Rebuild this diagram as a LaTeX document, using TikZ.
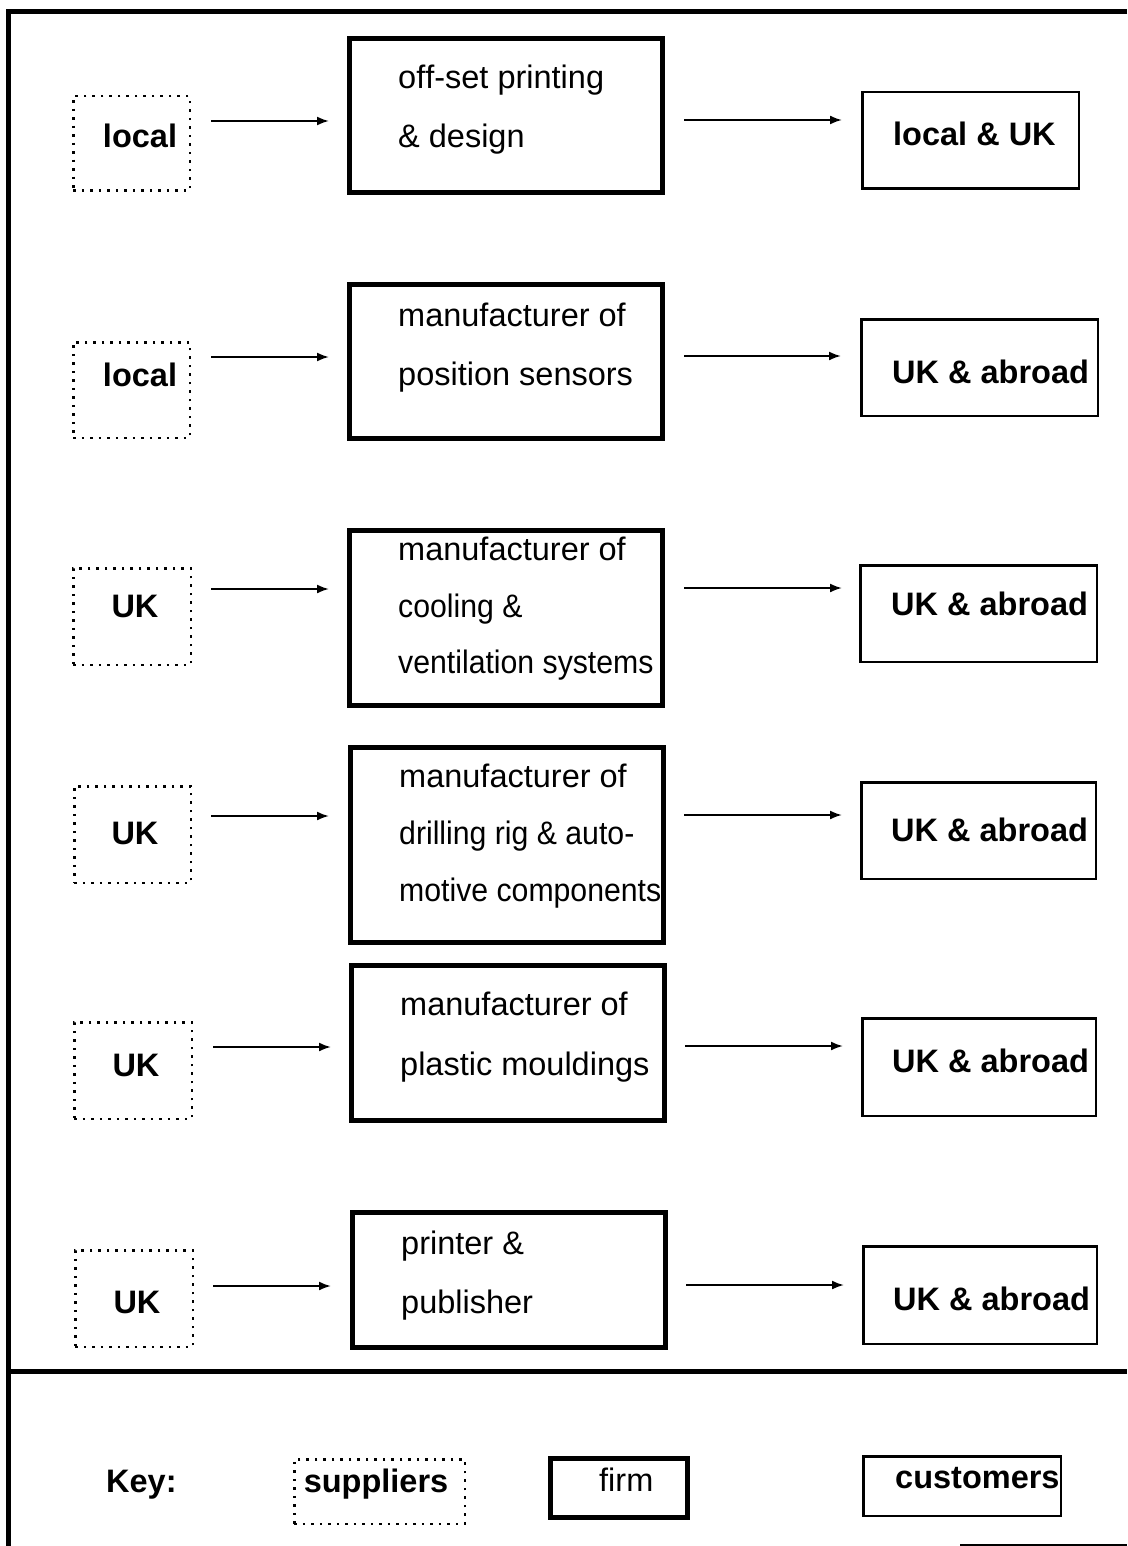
\documentclass[tikz,border=0pt]{standalone}
\usepackage{fontspec}
\setmainfont{Liberation Sans}[Ligatures=NoCommon]
\usetikzlibrary{arrows.meta}
\newcommand{\narrowtxt}[1]{\scalebox{0.93}[1]{#1}}
\begin{document}
\begin{tikzpicture}[x=1pt,y=-1pt,
  every node/.style={font=\fontsize{32.5}{39}\selectfont, inner sep=0pt},
  supbox/.style={draw, line width=2.5pt, dash pattern=on 2.5pt off 6pt},
  firmbox/.style={draw, line width=5pt},
  custbox/.style={draw, line width=2.5pt},
  btxt/.style={font=\fontsize{32.5}{39}\selectfont\bfseries, anchor=base},
  ltxt/.style={anchor=base west},
  bltxt/.style={font=\fontsize{32.5}{39}\selectfont\bfseries, anchor=base west},
  arr/.style={line width=2pt, -{Latex[length=12pt,width=9pt]}}
]
\useasboundingbox (0,0) rectangle (1127,1546);
% frame
\draw[line width=5pt] (1127,12) -- (8,12) -- (8,1546);
\draw[line width=5pt] (8,1371) -- (1127,1371);
\draw[line width=2pt] (960,1545) -- (1127,1545);

% row 1
\node[supbox, minimum width=116.5pt, minimum height=94.5pt] (s1) at (131.5,143.5) {};
\node[firmbox, minimum width=313pt, minimum height=154pt] (f1) at (506,115.5) {};
\node[custbox, minimum width=216.5pt, minimum height=96.5pt] (c1) at (970.5,140.5) {};
\node[btxt] (s1t) at (140,148) {local};
\node[ltxt] (f1a) at (398,89) {of\kern0ptf-set printing};
\node[ltxt] (f1b) at (398,148) {\& design};
\node[bltxt] (c1t) at (893,146) {local \& UK};
\draw[arr, shorten <=20pt, shorten >=18pt] (s1.east |- 0,121) -- (f1.west |- 0,121);
\draw[arr, shorten <=19pt, shorten >=19pt] (f1.east |- 0,120) -- (c1.west |- 0,120);

% row 2
\node[supbox, minimum width=116.5pt, minimum height=95.5pt] (s2) at (131.5,390) {};
\node[firmbox, minimum width=313pt, minimum height=154pt] (f2) at (506,361.5) {};
\node[custbox, minimum width=236.5pt, minimum height=96.5pt] (c2) at (979.5,367.5) {};
\node[btxt] (s2t) at (140,386) {local};
\node[ltxt] (f2a) at (398,326) {manufacturer of};
\node[ltxt] (f2b) at (398,385) {position sensors};
\node[bltxt] (c2t) at (892,383) {UK \& abroad};
\draw[arr, shorten <=20pt, shorten >=18pt] (s2.east |- 0,357) -- (f2.west |- 0,357);
\draw[arr, shorten <=19pt, shorten >=19pt] (f2.east |- 0,356) -- (c2.west |- 0,356);

% row 3
\node[supbox, minimum width=117.5pt, minimum height=96.5pt] (s3) at (132,616.5) {};
\node[firmbox, minimum width=313pt, minimum height=175pt] (f3) at (506,618) {};
\node[custbox, minimum width=236.5pt, minimum height=96.5pt] (c3) at (978.5,613.5) {};
\node[btxt] (s3t) at (135,617) {UK};
\node[ltxt] (f3a) at (398,560) {manufacturer of};
\node[ltxt] (f3b) at (398,617) {\narrowtxt{cooling \&}};
\node[ltxt] (f3c) at (398,673) {\narrowtxt{ventilation systems}};
\node[bltxt] (c3t) at (891,615) {UK \& abroad};
\draw[arr, shorten <=19pt, shorten >=18pt] (s3.east |- 0,589) -- (f3.west |- 0,589);
\draw[arr, shorten <=19pt, shorten >=17pt] (f3.east |- 0,588) -- (c3.west |- 0,588);

% row 4
\node[supbox, minimum width=116.5pt, minimum height=96.5pt] (s4) at (132.5,834.5) {};
\node[firmbox, minimum width=313pt, minimum height=195pt] (f4) at (507,845) {};
\node[custbox, minimum width=234.5pt, minimum height=96.5pt] (c4) at (978.5,830.5) {};
\node[btxt] (s4t) at (135,844) {UK};
\node[ltxt] (f4a) at (399,787) {manufacturer of};
\node[ltxt] (f4b) at (399,844) {\narrowtxt{drilling rig \& auto-}};
\node[ltxt] (f4c) at (399,901) {\narrowtxt{motive components}};
\node[bltxt] (c4t) at (891,841) {UK \& abroad};
\draw[arr, shorten <=19pt, shorten >=19pt] (s4.east |- 0,816) -- (f4.west |- 0,816);
\draw[arr, shorten <=18pt, shorten >=18pt] (f4.east |- 0,815) -- (c4.west |- 0,815);

% row 5
\node[supbox, minimum width=117.5pt, minimum height=96.5pt] (s5) at (133,1070.5) {};
\node[firmbox, minimum width=313pt, minimum height=155pt] (f5) at (508,1043) {};
\node[custbox, minimum width=233.5pt, minimum height=97.5pt] (c5) at (979,1067) {};
\node[btxt] (s5t) at (136,1076) {UK};
\node[ltxt] (f5a) at (400,1015) {manufacturer of};
\node[ltxt] (f5b) at (400,1075) {plastic mouldings};
\node[bltxt] (c5t) at (892,1072) {UK \& abroad};
\draw[arr, shorten <=20pt, shorten >=18pt] (s5.east |- 0,1047) -- (f5.west |- 0,1047);
\draw[arr, shorten <=18pt, shorten >=18pt] (f5.east |- 0,1046) -- (c5.west |- 0,1046);

% row 6
\node[supbox, minimum width=117.5pt, minimum height=96.5pt] (s6) at (134,1298.5) {};
\node[firmbox, minimum width=313pt, minimum height=135pt] (f6) at (509,1280) {};
\node[custbox, minimum width=233.5pt, minimum height=97.5pt] (c6) at (980,1295) {};
\node[btxt] (s6t) at (137,1313) {UK};
\node[ltxt] (f6a) at (401,1254) {printer \&};
\node[ltxt] (f6b) at (401,1313) {publisher};
\node[bltxt] (c6t) at (893,1310) {UK \& abroad};
\draw[arr, shorten <=19pt, shorten >=19pt] (s6.east |- 0,1286) -- (f6.west |- 0,1286);
\draw[arr, shorten <=18pt, shorten >=18pt] (f6.east |- 0,1285) -- (c6.west |- 0,1285);

% key
\node[bltxt] (key) at (106,1492) {Key:};
\node[supbox, minimum width=170.5pt, minimum height=64.5pt] (ks) at (379.5,1491.5) {};
\node[btxt] (kst) at (376,1492) {suppliers};
\node[firmbox, minimum width=137pt, minimum height=59pt] (kf) at (619,1488) {};
\node[ltxt] (kft) at (599,1491) {f\kern0ptirm};
\node[custbox, minimum width=197.5pt, minimum height=59.5pt] (kc) at (962,1486) {};
\node[bltxt] (kct) at (895,1488) {customers};
\end{tikzpicture}
\end{document}
